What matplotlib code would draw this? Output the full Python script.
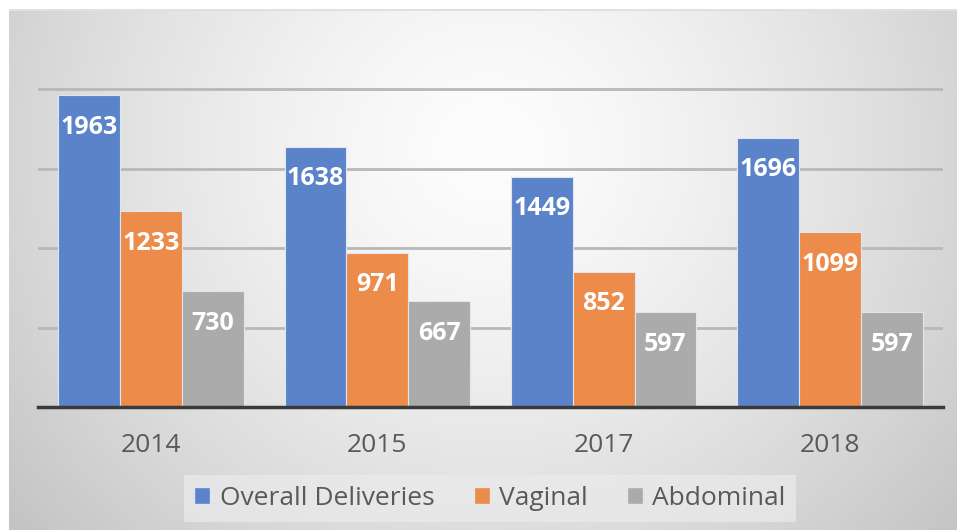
import numpy as np
import matplotlib
matplotlib.use('Agg')
import matplotlib.pyplot as plt
from matplotlib.patches import Patch

# data
years = ['2014', '2015', '2017', '2018']
overall = [1963, 1638, 1449, 1696]
vaginal = [1233, 971, 852, 1099]
abdominal = [730, 667, 597, 597]
series_names = ['Overall Deliveries', 'Vaginal', 'Abdominal']
colors = ['#5b83c9', '#ec8b4a', '#ababab']

plt.rcParams['font.family'] = ['Open Sans', 'DejaVu Sans']

W, H = 958, 530
fig = plt.figure(figsize=(W / 100, H / 100), dpi=100)
fig.patch.set_facecolor('white')

# radial grey background
bg = fig.add_axes([9 / W, 0, (957 - 9) / W, (530 - 9) / H])
bg.set_axis_off()
yy, xx = np.mgrid[0:521, 0:948]
r = np.sqrt((xx - 480) ** 2 + ((yy - 140) * 1.05) ** 2)
shade = 253 - 60 * np.clip(r / 640, 0, 1) ** 1.4
img = np.dstack([shade, shade, shade]) / 255
bg.imshow(img, aspect='auto', extent=[0, 1, 0, 1], origin='upper')
bg.plot([0, 1], [0.999, 0.999], color='#e0e0e0', lw=1.5, transform=bg.transAxes)

ax = fig.add_axes([38 / W, (530 - 407) / H, (943 - 38) / W, (407 - 10) / H])
ax.patch.set_alpha(0)

x = np.arange(len(years))
bw = 0.273
all_series = [overall, vaginal, abdominal]
for i, (vals, c) in enumerate(zip(all_series, colors)):
    bars = ax.bar(x + (i - 1) * bw, vals, bw, color=c, edgecolor='#dfe6f2',
                  linewidth=0.8, zorder=3)
    for b, v in zip(bars, vals):
        ax.annotate(str(v), (b.get_x() + b.get_width() / 2, v),
                    xytext=(0, -32), textcoords='offset pixels',
                    ha='center', va='center', color='white',
                    fontsize=18, fontweight='bold', zorder=4)

ax.set_xlim(-0.5, len(years) - 0.5)
ax.set_ylim(0, 2500)
ax.set_yticks([500, 1000, 1500, 2000])
ax.yaxis.grid(True, color='#b8b8b8', linewidth=2, zorder=0)
ax.tick_params(axis='y', left=False, labelleft=False)
ax.set_xticks(x)
ax.set_xticklabels(years)
ax.tick_params(axis='x', length=0, pad=19, labelsize=19, labelcolor='#595959')

for s in ['top', 'right', 'left']:
    ax.spines[s].set_visible(False)
ax.spines['bottom'].set_color('#3a3a3a')
ax.spines['bottom'].set_linewidth(2.5)
ax.spines['bottom'].set_zorder(5)

handles = [Patch(facecolor=c, edgecolor='#dfe6f2', label=n)
           for c, n in zip(colors, series_names)]
leg = fig.legend(handles=handles, loc='center', bbox_to_anchor=(490 / W, 1 - 498.5 / H),
                 ncol=3, frameon=True, fontsize=19, handlelength=0.6, handleheight=0.6,
                 handletextpad=0.35, columnspacing=1.5, borderpad=0.4)
leg.get_frame().set_facecolor('#ebebeb')
leg.get_frame().set_alpha(0.7)
leg.get_frame().set_edgecolor('none')
leg.get_frame().set_boxstyle('square', pad=0)
for t in leg.get_texts():
    t.set_color('#595959')

fig.savefig('out.png', dpi=100)
